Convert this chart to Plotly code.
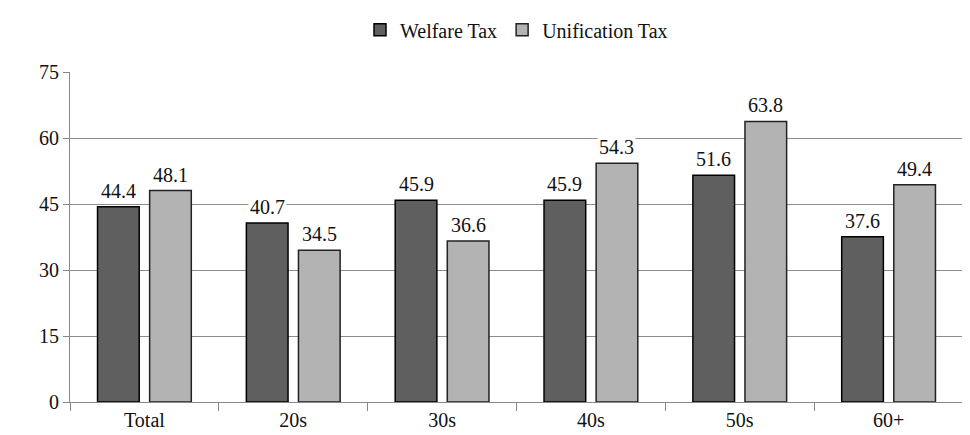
import plotly.graph_objects as go

categories = ["Total", "20s", "30s", "40s", "50s", "60+"]
welfare = [44.4, 40.7, 45.9, 45.9, 51.6, 37.6]
unification = [48.1, 34.5, 36.6, 54.3, 63.8, 49.4]

font = "Liberation Serif, DejaVu Serif, Times New Roman, serif"

fig = go.Figure()
fig.add_trace(go.Bar(
    name="Welfare Tax", x=categories, y=welfare,
    marker=dict(color="#5f5f5f", line=dict(color="#000000", width=1.5)),
))
fig.add_trace(go.Bar(
    name="Unification Tax", x=categories, y=unification,
    marker=dict(color="#b3b3b3", line=dict(color="#222222", width=1.5)),
))

# value labels with white boxes over the gridlines
for i, cat in enumerate(categories):
    for val, shift in ((welfare[i], -26), (unification[i], 26)):
        fig.add_annotation(
            x=cat, y=val, text=f"{val:.1f}", showarrow=False,
            yanchor="bottom", yshift=3, xshift=shift,
            bgcolor="white", font=dict(family=font, size=20, color="#111"),
        )

fig.update_layout(
    width=970, height=435,
    margin=dict(l=62, r=15, t=52, b=34),
    plot_bgcolor="white", paper_bgcolor="white",
    font=dict(family=font, size=20, color="#111"),
    barmode="group", bargap=0.3, bargroupgap=0.2,
    legend=dict(orientation="h", x=0.5, xanchor="center", yref="container",
                y=0.95, yanchor="middle", font=dict(family=font, size=20)),
    showlegend=True,
)
fig.update_yaxes(
    range=[0, 75], tickvals=[0, 15, 30, 45, 60, 75],
    showgrid=True, gridcolor="#8c8c8c", gridwidth=1.2,
    showline=True, linecolor="#888", ticks="outside", ticklen=6, tickcolor="#888",
    zeroline=False,
)
fig.update_xaxes(
    showline=True, linecolor="#888", ticks="outside", tickson="boundaries",
    ticklen=8, tickcolor="#888",
)

fig.write_html("out.html")
